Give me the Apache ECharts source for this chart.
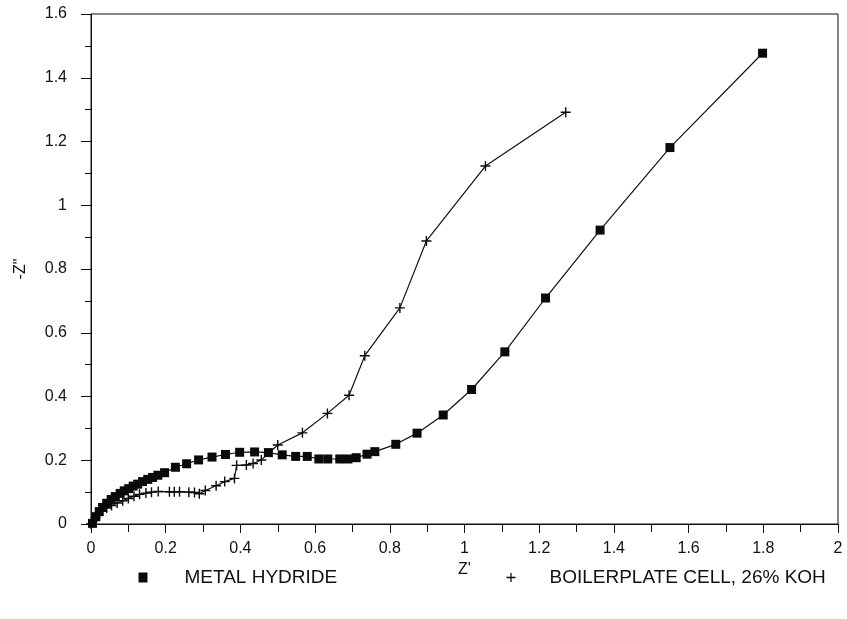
<!DOCTYPE html>
<html>
<head>
<meta charset="utf-8">
<script src="https://cdn.jsdelivr.net/npm/echarts@6/dist/echarts.min.js"></script>
<style>
html,body{margin:0;padding:0;background:#fff;}
#chart{width:847px;height:619px;}
</style>
</head>
<body>
<div id="chart"></div>
<script>
// Metal hydride series (Z', -Z'')
var mhZre = [0.004,0.013,0.022,0.031,0.042,0.054,0.065,0.078,0.089,0.101,0.113,0.125,0.138,0.152,0.165,0.179,0.197,0.226,0.256,0.288,0.324,0.360,0.398,0.438,0.475,0.512,0.548,0.579,0.610,0.634,0.666,0.688,0.710,0.739,0.760,0.816,0.873,0.943,1.019,1.108,1.217,1.363,1.550,1.798];
var mhZim = [0.002,0.023,0.039,0.052,0.065,0.077,0.086,0.096,0.104,0.111,0.119,0.125,0.133,0.140,0.146,0.153,0.161,0.178,0.189,0.201,0.210,0.218,0.225,0.226,0.224,0.217,0.212,0.212,0.204,0.204,0.204,0.204,0.208,0.219,0.227,0.250,0.285,0.342,0.422,0.540,0.709,0.922,1.181,1.477];
// Boilerplate cell, 26% KOH series
var bpZre = [0,0.006,0.012,0.02,0.03,0.042,0.055,0.07,0.085,0.1,0.115,0.13,0.147,0.162,0.18,0.21,0.223,0.237,0.262,0.277,0.29,0.306,0.335,0.358,0.384,0.39,0.416,0.434,0.456,0.5,0.566,0.633,0.691,0.733,0.827,0.898,1.056,1.271];
var bpZim = [0,0.01,0.02,0.03,0.04,0.05,0.058,0.066,0.073,0.08,0.087,0.093,0.097,0.1,0.102,0.101,0.101,0.101,0.1,0.099,0.095,0.105,0.12,0.133,0.143,0.184,0.185,0.19,0.201,0.248,0.286,0.347,0.404,0.528,0.678,0.888,1.123,1.292];
var seriesNames = ['METAL HYDRIDE', 'BOILERPLATE CELL, 26% KOH'];
var xAxisName = "Z'";
var yAxisName = '-Z"';

function pairs(a, b) { return a.map(function (v, i) { return [v, b[i]]; }); }

var plusPath = 'path://M4.3,0H5.7V4.3H10V5.7H5.7V10H4.3V5.7H0V4.3H4.3Z';
var FONT = 'Liberation Sans, Arial, Helvetica, sans-serif';

var chart = echarts.init(document.getElementById('chart'), null, {renderer: 'canvas'});
chart.setOption({
  backgroundColor: '#fff',
  animation: false,
  grid: {left: 91, right: 9, top: 14, height: 510, show: true, borderColor: '#111', borderWidth: 1, backgroundColor: 'transparent'},
  xAxis: {
    type: 'value', min: 0, max: 2, interval: 0.2,
    name: xAxisName, nameLocation: 'middle', nameGap: 33,
    nameTextStyle: {fontFamily: FONT, fontSize: 16, color: '#111'},
    axisLine: {onZero: false, lineStyle: {color: '#111', width: 1}},
    axisTick: {show: true, inside: false, length: 9, lineStyle: {color: '#111'}},
    minorTick: {show: true, splitNumber: 2, length: 8, lineStyle: {color: '#111'}},
    axisLabel: {fontFamily: FONT, fontSize: 16, color: '#111', margin: 17},
    splitLine: {show: false}
  },
  yAxis: {
    type: 'value', min: 0, max: 1.6, interval: 0.2,
    name: yAxisName, nameLocation: 'middle', nameGap: 62, nameRotate: 90,
    nameTextStyle: {fontFamily: FONT, fontSize: 16, color: '#111'},
    axisLine: {onZero: false, lineStyle: {color: '#111', width: 1}},
    axisTick: {show: true, inside: false, length: 10, lineStyle: {color: '#111'}},
    minorTick: {show: true, splitNumber: 2, length: 6, lineStyle: {color: '#111'}},
    axisLabel: {fontFamily: FONT, fontSize: 16, color: '#111', margin: 24},
    splitLine: {show: false}
  },
  legend: [
    {
      data: [{name: seriesNames[0], icon: 'rect'}],
      left: 138.5, top: 568, padding: 0, itemWidth: 9, itemHeight: 10,
      textStyle: {fontFamily: FONT, fontSize: 19, color: '#111', padding: [0, 0, 0, 32]}
    },
    {
      data: [{name: seriesNames[1], icon: plusPath}],
      left: 506.5, top: 568, padding: 0, itemWidth: 9, itemHeight: 9,
      textStyle: {fontFamily: FONT, fontSize: 19, color: '#111', padding: [0, 0, 0, 29]}
    }
  ],
  series: [
    {
      name: seriesNames[0], type: 'line', data: pairs(mhZre, mhZim),
      symbol: 'rect', symbolSize: 9,
      itemStyle: {color: '#0a0a0a'},
      lineStyle: {color: '#111', width: 1.2}
    },
    {
      name: seriesNames[1], type: 'line', data: pairs(bpZre, bpZim),
      symbol: plusPath, symbolSize: 10,
      itemStyle: {color: '#0a0a0a'},
      lineStyle: {color: '#111', width: 1.2}
    }
  ]
});
</script>
</body>
</html>
